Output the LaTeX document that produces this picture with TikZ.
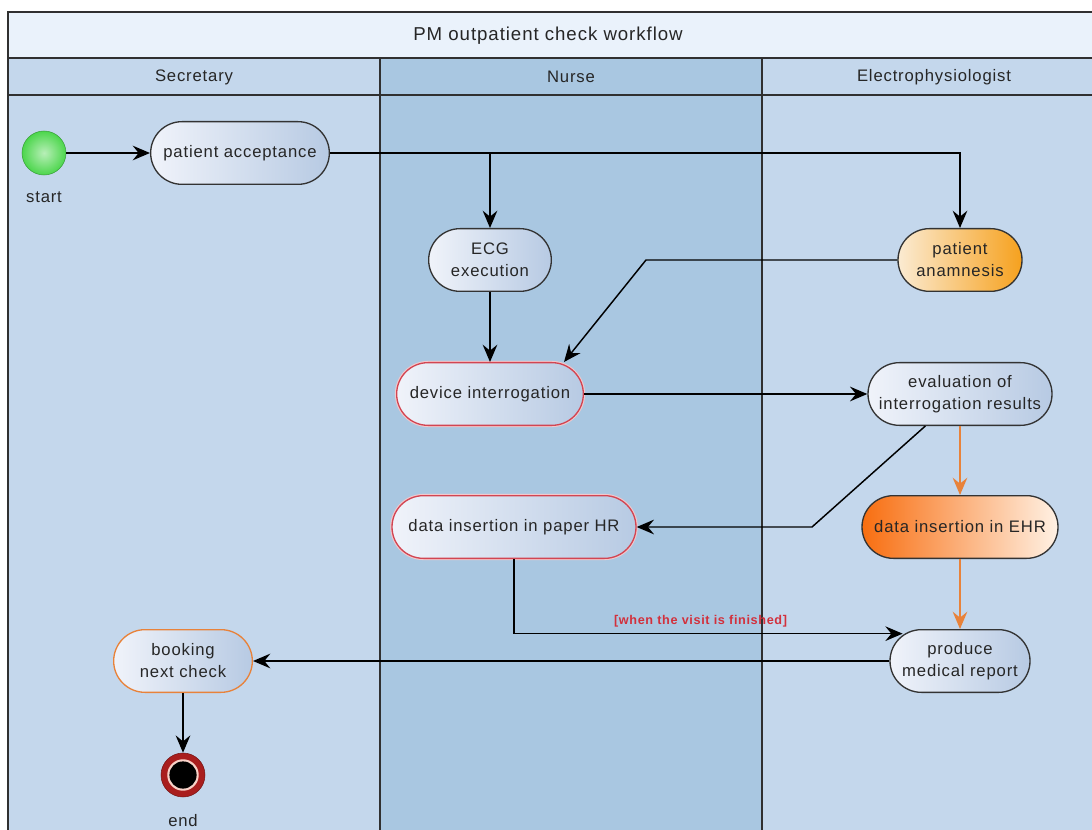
\documentclass[tikz,border=0pt]{standalone}
\usepackage{fontspec}
\setmainfont{Liberation Sans}[LetterSpace=5]
\usetikzlibrary{arrows.meta}

\definecolor{titleband}{HTML}{EAF2FB}
\definecolor{lanelight}{HTML}{C4D7EC}
\definecolor{lanedark}{HTML}{A9C7E1}
\definecolor{laneline}{HTML}{303030}
\definecolor{actlight}{HTML}{F0F3FA}
\definecolor{actdark}{HTML}{B7CAE3}
\definecolor{pmred}{HTML}{D24552}
\definecolor{pmorange}{HTML}{E8823A}
\definecolor{anamlight}{HTML}{FBEBD2}
\definecolor{anamdark}{HTML}{F6A11E}
\definecolor{ehrdark}{HTML}{F86E10}
\definecolor{ehrlight}{HTML}{FFF1E4}
\definecolor{guardred}{HTML}{D2303C}
\definecolor{startgreen}{HTML}{4CD64C}
\definecolor{endred}{HTML}{A91E1E}
\definecolor{endpink}{HTML}{F8D2C8}

\tikzset{
  activity/.style={draw=black!80, line width=1pt, rounded corners=23.5pt,
    minimum height=47pt, inner sep=0pt, align=center,
    left color=actlight, right color=actdark, text=black!85,
    font=\fontsize{12.5}{16.5}\selectfont},
  redact/.style={activity, draw=pmred, preaction={draw=pmred!30, line width=2.6pt}},
  flow/.style={draw=black, line width=1.1pt,
    -{Stealth[length=13pt,width=11pt,inset=4.5pt]}},
  hotflow/.style={flow, draw=pmorange, -{Stealth[length=13pt,width=11pt,inset=4.5pt,fill=pmorange]}},
  lbl/.style={text=black!85, font=\fontsize{12.5}{15}\selectfont},
  guard/.style={text=guardred, font=\fontsize{9.5}{11}\bfseries},
  startstate/.style={circle, minimum size=33pt, inner sep=0pt, draw=startgreen!75!black,
    inner color=startgreen!40!white, outer color=startgreen},
  endstate/.style={circle, minimum size=33pt, inner sep=0pt, fill=endred, draw=endred!70!black,
    path picture={
      \fill[endpink] (path picture bounding box.center) circle (11.8pt);
      \fill[black] (path picture bounding box.center) circle (10.2pt);}},
}

\begin{document}
\begin{tikzpicture}[x=0.75pt,y=-0.75pt]
    \useasboundingbox (0,0) rectangle (1092,830);

    % Draw the pool and its lanes
    \fill[titleband] (8,12) rectangle (1100,58);
    \fill[lanelight] (8,58) rectangle (380,840);
    \fill[lanedark] (380,58) rectangle (762,840);
    \fill[lanelight] (762,58) rectangle (1100,840);
    \draw[laneline, line width=0.8pt] (8,840) -- (8,12) -- (1100,12);
    \draw[laneline, line width=0.8pt] (8,58) -- (1100,58);
    \draw[laneline, line width=0.8pt] (8,95) -- (1100,95);
    \draw[laneline, line width=0.8pt] (380,58) -- (380,840);
    \draw[laneline, line width=0.8pt] (762,58) -- (762,840);

    \node[lbl, font=\fontsize{14}{16}\selectfont] (title) at (548,36) {PM outpatient check workflow};
    \node[lbl] (secr) at (194,77) {Secretary};
    \node[lbl] (nurse) at (571,77) {Nurse};
    \node[lbl] (ephys) at (934,77) {Electrophysiologist};

    % Define the states
    \node[startstate] (start) at (44,153) {};
    \node[lbl] (startlbl) at (44,197) {start};
    \node[endstate] (endstate) at (183,775) {};
    \node[lbl] (endlbl) at (183,821) {end};

    % Define the activities
    \node[activity, minimum width=134pt] (accept) at (240,153) {patient acceptance};
    \node[activity, minimum width=92pt] (ecg) at (490,260) {ECG\\execution};
    \node[activity, minimum width=93pt, left color=anamlight, right color=anamdark] (anam) at (960,260) {patient\\anamnesis};
    \node[redact, minimum width=140pt] (interrog) at (490,394) {device interrogation};
    \node[activity, minimum width=138pt] (evalres) at (960,394) {evaluation of\\interrogation results};
    \node[redact, minimum width=183pt] (paperhr) at (514,527) {data insertion in paper HR};
    \node[activity, minimum width=147pt, left color=ehrdark, right color=ehrlight] (ehr) at (960,527) {data insertion in EHR};
    \node[activity, minimum width=105pt] (report) at (960,661) {produce\\medical report};
    \node[activity, minimum width=104pt, draw=pmorange] (booking) at (183,661) {booking\\next check};

    % Bend points
    \coordinate (k1) at (646,260);
    \coordinate (k2) at (812,527);

    % Draw arrows
    \draw[flow] (start) -- (accept);
    \draw[flow] (accept.east) -| (ecg.north);
    \draw[flow] (accept.east) -| (anam.north);
    \draw[flow] (ecg) -- (interrog);
    \draw[flow] (anam.west) -- (k1) -- ([xshift=-15pt]interrog.north east);
    \draw[flow] (interrog) -- (evalres);
    \draw[flow] ([xshift=-26pt]evalres.south) -- (k2) -- (paperhr.east);
    \draw[hotflow] (evalres) -- (ehr);
    \draw[hotflow] (ehr) -- (report);
    \draw[flow] (paperhr.south) |- ([xshift=10pt,yshift=-3.5pt]report.north west)
        node[guard, pos=0.74, above=1pt] {[when the visit is finished]};
    \draw[flow] (report) -- (booking);
    \draw[flow] (booking) -- (endstate);
\end{tikzpicture}
\end{document}
